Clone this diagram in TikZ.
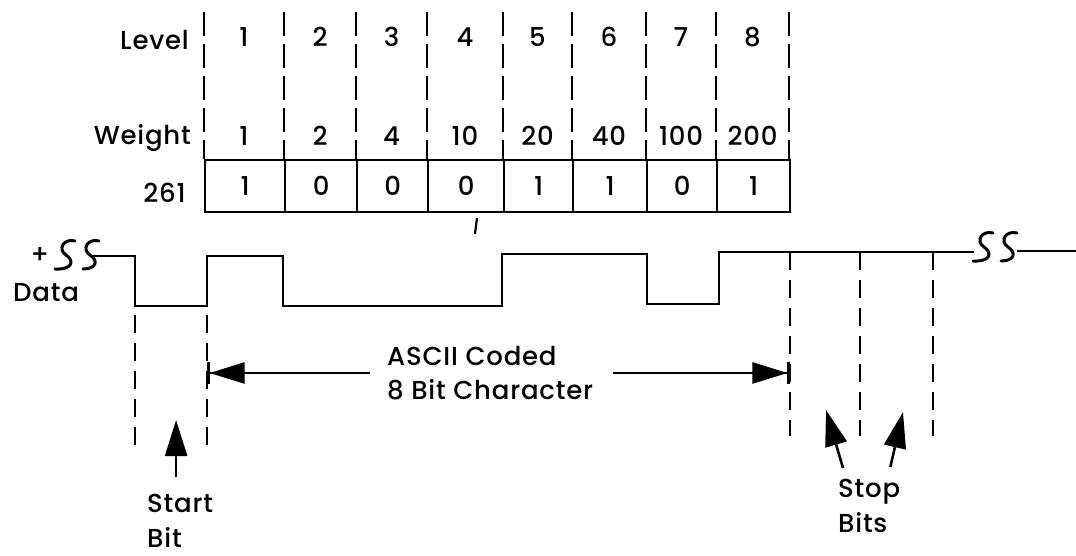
\documentclass[tikz,border=0pt]{standalone}
\usepackage{fontspec}
\setmainfont{Poppins}[UprightFont=* Medium, LetterSpace=3]
\usepackage{tikz}
\usetikzlibrary{arrows.meta, positioning}

\begin{document}
\begin{tikzpicture}[x=1pt, y=-1pt,
  txt/.style={font=\fontsize{26}{34.5}\selectfont, inner sep=0pt},
  colguide/.style={line width=2.2pt, dash pattern=on 24pt off 8pt},
  bitguide/.style={line width=2.2pt, dash pattern=on 18pt off 10pt},
  wave/.style={line width=2.7pt, line join=miter},
  cellbox/.style={draw, line width=2.2pt, minimum height=52pt, inner sep=0pt,
    font=\fontsize{26}{30}\selectfont},
  bigarrow/.style={line width=2.6pt, -{Triangle[length=36pt,width=22pt]}},
  bararrow/.style={line width=2.6pt, -{Triangle[length=35pt,width=21pt] Bar[width=22pt]}},
  brk/.pic={
    \draw[wave, line width=3pt, line cap=round] (9,-14) .. controls (-2,-17) and (-9,-6) .. (0,0)
      .. controls (9,6) and (6,15) .. (-11,14);
    \draw[wave, line width=3pt, line cap=round] (33,-14) .. controls (22,-17) and (15,-6) .. (24,0)
      .. controls (33,6) and (30,14) .. (17,14);
  }]

  \fill[white] (0,0) rectangle (1076,556);
  \useasboundingbox (0,0) rectangle (1076,556);

  %% Column guides over the table
  \foreach \x in {204,284,356,427,503,572,646,716,789}
    \draw[colguide] (\x,12) -- (\x,159);

  %% Level / weight / bit cells
  \foreach \i/\xa/\xb/\lv/\wt/\bit in {1/204/284/1/1/1, 2/284/356/2/2/0,
      3/356/427/3/4/0, 4/427/503/4/10/0, 5/503/572/5/20/1, 6/572/646/6/40/1,
      7/646/716/7/100/0, 8/716/789/8/200/1} {
    \pgfmathsetmacro\cw{\xb-\xa}
    \node[cellbox, minimum width=\cw pt, anchor=north west] (cell\i) at (\xa,159) {\bit};
    \node[txt] (lv\i) at ({(\xa+\xb)/2},37) {\lv};
    \node[txt] (wt\i) at ({(\xa+\xb)/2},136) {\wt};
  }
  \node[txt, anchor=east] (level) at (189,40) {Level};
  \node[txt, anchor=east] (weight) at (191,138) {Weight};
  \node[txt, anchor=east] (code) at (186,193) {261};
  \draw[line width=2.2pt] (477,218) -- (475,234);

  %% Data line
  \node[txt] (plus) at (40,255) {+};
  \node[txt, anchor=west] (data) at (13,293) {Data};
  \pic at (66,255) {brk};
  \draw[wave] (92,256) -- (135,256) -- (135,306) -- (207,306) -- (207,256)
    -- (283,256) -- (283,306) -- (502,306) -- (502,254) -- (647,254)
    -- (647,304) -- (719,304) -- (719,252) -- (974,252);
  \pic at (984,247) {brk};
  \draw[wave] (1017,251) -- (1076,251);

  %% Start and stop bit guides
  \foreach \x in {135,207}
    \draw[bitguide] (\x,315) -- (\x,445);
  \foreach \x in {790,860,933}
    \draw[bitguide] (\x,252) -- (\x,436);
  \coordinate (chA) at (207,372);
  \coordinate (chB) at (790,370);

  %% Character span
  \node[txt, align=left, anchor=west] (ascii) at (387,373) {ASCII Coded\\8 Bit Character};
  \draw[bararrow] ([xshift=-17pt]ascii.west) -- (ascii.west -| chA);
  \draw[bararrow] ([xshift=20pt]ascii.east) -- (ascii.east -| chB);

  %% Start bit
  \node[txt, align=left, anchor=north west] (start) at (147,494) {Start\\Bit};
  \draw[bigarrow] ([xshift=-4pt,yshift=17pt]start.north) -- ([xshift=-4pt,yshift=74pt]start.north);

  %% Stop bits
  \node[txt, align=left, anchor=north west] (stop) at (838,479) {Stop\\Bits};
  \coordinate (stopA) at (826,410);
  \coordinate (stopB) at (903,412);
  \draw[bigarrow] ([xshift=5pt,yshift=11pt]stop.north west) -- (stopA);
  \draw[bigarrow] ([xshift=-10pt,yshift=12pt]stop.north east) -- (stopB);

\end{tikzpicture}
\end{document}
